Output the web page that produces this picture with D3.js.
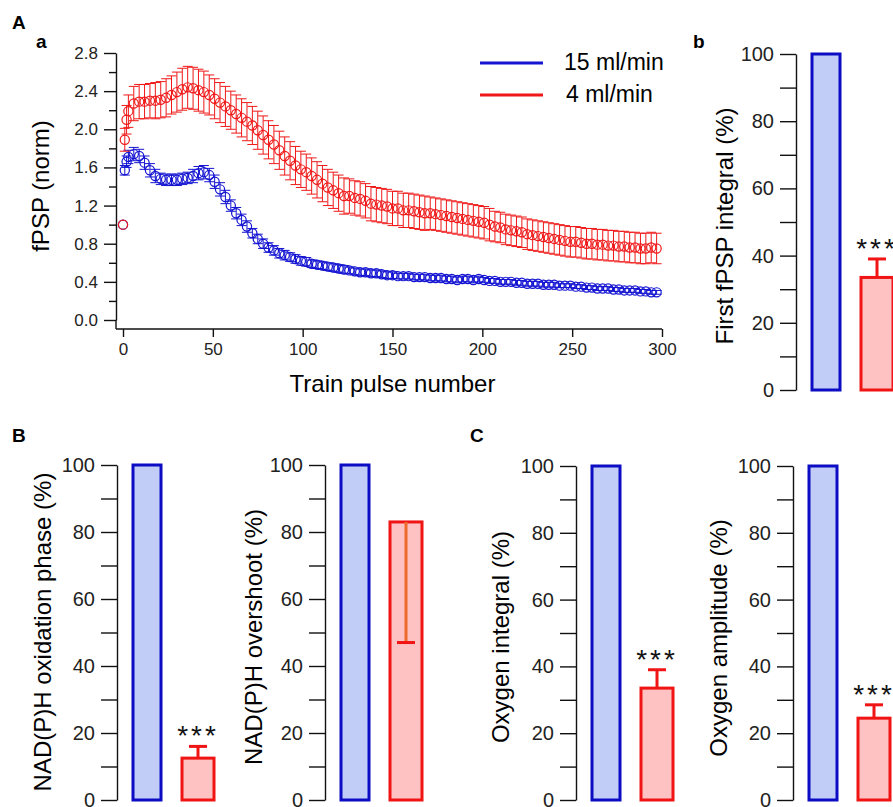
<!DOCTYPE html>
<html>
<head>
<meta charset="utf-8">
<script src="https://cdn.jsdelivr.net/npm/d3@7"></script>
<style>
    body { margin: 0; background: #fff; }
    svg { font-family: "Liberation Sans", Arial, Helvetica, sans-serif; }
    .axis path, .axis line { stroke: #111; stroke-width: 1.4; }
    .axis text { fill: #222; }
</style>
</head>
<body>
<script>
// ---- panel A a : fPSP time course ----
const pulses = [0, 1, 2, 3].concat(d3.range(6, 298, 3));

const blueMean = [1.00, 1.57, 1.66, 1.71,
    1.74, 1.72, 1.65, 1.57, 1.51, 1.48, 1.47, 1.47, 1.47, 1.48, 1.49, 1.51, 1.54, 1.55, 1.52,
    1.45, 1.37, 1.29, 1.20, 1.12, 1.05, 0.98, 0.91, 0.85, 0.80,
    0.76, 0.73, 0.70, 0.68, 0.66, 0.64, 0.62, 0.61, 0.59, 0.58, 0.57, 0.56, 0.55, 0.54, 0.53, 0.52, 0.51, 0.50, 0.50, 0.49, 0.49, 0.48, 0.47, 0.47,
    0.46, 0.46, 0.46, 0.45, 0.45, 0.45, 0.44, 0.44, 0.44, 0.43,
    0.43, 0.42, 0.43, 0.43, 0.42, 0.43, 0.42, 0.41, 0.41, 0.40,
    0.40, 0.40, 0.39, 0.39, 0.38, 0.38, 0.38, 0.37, 0.37, 0.37,
    0.36, 0.36, 0.36, 0.35, 0.35, 0.34, 0.34, 0.33, 0.33, 0.33,
    0.32, 0.32, 0.31, 0.31, 0.31, 0.30, 0.30, 0.29, 0.29];

const blueErr = [0, 0.05, 0.06, 0.07,
    0.07, 0.07, 0.07, 0.07, 0.07, 0.06, 0.06, 0.06, 0.06, 0.06, 0.06, 0.07, 0.07, 0.07, 0.07,
    0.07, 0.07, 0.07, 0.06, 0.06, 0.06, 0.06, 0.05, 0.05, 0.05,
    0.05, 0.05, 0.05, 0.05, 0.045, 0.045, 0.045, 0.045, 0.04, 0.04, 0.04, 0.04, 0.04, 0.04, 0.04, 0.035, 0.035, 0.035, 0.035, 0.035, 0.035, 0.035, 0.035, 0.035,
    0.03, 0.03, 0.03, 0.03, 0.03, 0.03, 0.03, 0.03, 0.03, 0.03,
    0.03, 0.03, 0.03, 0.03, 0.03, 0.03, 0.025, 0.025, 0.025, 0.025,
    0.025, 0.025, 0.025, 0.025, 0.025, 0.025, 0.025, 0.025, 0.025, 0.025,
    0.02, 0.02, 0.02, 0.02, 0.02, 0.02, 0.02, 0.02, 0.02, 0.02,
    0.02, 0.02, 0.02, 0.02, 0.02, 0.02, 0.02, 0.02, 0.02];

const redMean = [1.00, 1.89, 2.10, 2.19,
    2.27, 2.29, 2.29, 2.30, 2.30, 2.31, 2.33, 2.36, 2.39, 2.42, 2.44, 2.43, 2.41, 2.39, 2.36,
    2.32, 2.28, 2.24, 2.20, 2.16, 2.12, 2.08, 2.04, 1.99, 1.94,
    1.89, 1.84, 1.78, 1.72, 1.67, 1.62, 1.58, 1.55, 1.51, 1.47, 1.43, 1.39, 1.36, 1.33, 1.30, 1.30, 1.28, 1.27, 1.25, 1.22, 1.21, 1.20, 1.19, 1.17,
    1.17, 1.15, 1.15, 1.14, 1.13, 1.12, 1.12, 1.11, 1.10, 1.09,
    1.08, 1.07, 1.06, 1.05, 1.04, 1.03, 1.02, 1.00, 0.98, 0.97,
    0.95, 0.94, 0.93, 0.92, 0.90, 0.89, 0.88, 0.87, 0.86, 0.85,
    0.84, 0.83, 0.82, 0.82, 0.81, 0.80, 0.80, 0.79, 0.79, 0.78,
    0.78, 0.77, 0.77, 0.76, 0.76, 0.75, 0.75, 0.76, 0.75];

const redErr = [0, 0.12, 0.15, 0.17,
    0.18, 0.18, 0.18, 0.18, 0.19, 0.19, 0.20, 0.20, 0.21, 0.22, 0.22, 0.22, 0.22, 0.22, 0.21,
    0.21, 0.21, 0.21, 0.20, 0.20, 0.20, 0.20, 0.20, 0.20, 0.20,
    0.20, 0.20, 0.20, 0.20, 0.20, 0.20, 0.19, 0.19, 0.19, 0.19, 0.19, 0.19, 0.19, 0.19, 0.19, 0.18, 0.18, 0.18, 0.18, 0.18, 0.18, 0.18, 0.18, 0.18,
    0.18, 0.18, 0.18, 0.18, 0.18, 0.18, 0.17, 0.17, 0.17, 0.17,
    0.17, 0.17, 0.17, 0.17, 0.17, 0.17, 0.17, 0.17, 0.16, 0.16,
    0.16, 0.16, 0.16, 0.16, 0.16, 0.16, 0.16, 0.16, 0.16, 0.16,
    0.16, 0.16, 0.16, 0.16, 0.16, 0.16, 0.16, 0.16, 0.16, 0.16,
    0.16, 0.16, 0.16, 0.16, 0.16, 0.16, 0.16, 0.16, 0.16];

const seriesNames = ["15 ml/min", "4 ml/min"];
const seriesColors = ["#1414d2", "#f01818"];

// ---- bar panels (b, B, C) ----
const barLabels = ["First fPSP integral (%)", "NAD(P)H oxidation phase (%)",
    "NAD(P)H overshoot (%)", "Oxygen integral (%)", "Oxygen amplitude (%)"];
const controlValues = [100, 100, 100, 100, 100];
const lowFlowValues = [33.5, 12.5, 83, 33.5, 24.5];
const lowFlowErrors = [5.5, 3.5, -36, 5.5, 4];   // negative: drawn downwards
const significance = ["***", "***", "", "***", "***"];
const barTicks = d3.range(0, 101, 10);

let svg = d3.select("body")
    .append("svg")
    .attr("width", 893)
    .attr("height", 807);

// ===== line chart =====
let x = d3.scaleLinear().domain([0, 300]).range([123, 662]);
let y = d3.scaleLinear().domain([0, 2.8]).range([320, 53]);
const axisY0 = 116, axisX0 = 329;

let yAxis = svg.append("g")
    .attr("class", "axis")
    .attr("transform", `translate(${axisY0},0)`)
    .call(d3.axisLeft(y)
        .tickValues(d3.range(0, 2.81, 0.4))
        .tickFormat(d3.format(".1f"))
        .tickSize(12).tickPadding(6).tickSizeOuter(0));
yAxis.selectAll("text").attr("font-size", 17);

svg.append("g")
    .attr("class", "axis")
    .attr("transform", `translate(${axisY0},0)`)
    .call(d3.axisLeft(y)
        .tickValues(d3.range(0.2, 2.7, 0.4))
        .tickFormat("")
        .tickSize(7).tickSizeOuter(0))
    .select(".domain").remove();

svg.append("line")
    .attr("x1", axisY0).attr("x2", axisY0)
    .attr("y1", y(0)).attr("y2", axisX0)
    .attr("stroke", "#111").attr("stroke-width", 1.4);

let xAxis = svg.append("g")
    .attr("class", "axis")
    .attr("transform", `translate(0,${axisX0})`)
    .call(d3.axisBottom(x)
        .tickValues(d3.range(0, 301, 50))
        .tickSize(8).tickPadding(6).tickSizeOuter(0));
xAxis.select(".domain").remove();
xAxis.selectAll("text").attr("font-size", 17);

svg.append("line")
    .attr("x1", axisY0).attr("x2", x(300))
    .attr("y1", axisX0).attr("y2", axisX0)
    .attr("stroke", "#111").attr("stroke-width", 1.4);

svg.append("text")
    .attr("x", (x(0) + x(300)) / 2).attr("y", 392)
    .attr("text-anchor", "middle").attr("font-size", 24)
    .text("Train pulse number");

svg.append("text")
    .attr("transform", "translate(41,186) rotate(-90)")
    .attr("text-anchor", "middle").attr("dy", "0.35em").attr("font-size", 24)
    .text("fPSP (norm)");

let series = [
    { means: blueMean, errs: blueErr, color: seriesColors[0] },
    { means: redMean, errs: redErr, color: seriesColors[1] }
];

series.forEach(s => {
    let pts = pulses.map((p, i) => ({ p: p, m: s.means[i], e: s.errs[i] }));
    let g = svg.append("g");
    let eb = g.selectAll(".eb")
        .data(pts.filter(d => d.e > 0))
        .enter()
        .append("g");
    eb.append("line")
        .attr("x1", d => x(d.p)).attr("x2", d => x(d.p))
        .attr("y1", d => y(d.m - d.e)).attr("y2", d => y(d.m + d.e))
        .attr("stroke", s.color).attr("stroke-width", 1);
    [-1, 1].forEach(sign => {
        eb.append("line")
            .attr("x1", d => x(d.p) - 5).attr("x2", d => x(d.p) + 5)
            .attr("y1", d => y(d.m + sign * d.e)).attr("y2", d => y(d.m + sign * d.e))
            .attr("stroke", s.color).attr("stroke-width", 1);
    });
    g.selectAll("circle")
        .data(pts)
        .enter()
        .append("circle")
        .attr("cx", d => x(d.p))
        .attr("cy", d => y(d.m))
        .attr("r", 4.6)
        .attr("fill", "none")
        .attr("stroke", s.color)
        .attr("stroke-width", 1.2);
});

// legend
seriesNames.forEach((name, i) => {
    let ly = [63, 95][i];
    svg.append("line")
        .attr("x1", 480).attr("x2", 543)
        .attr("y1", ly).attr("y2", ly)
        .attr("stroke", seriesColors[i]).attr("stroke-width", 3);
    svg.append("text")
        .attr("x", i == 0 ? 564 : 566).attr("y", ly + 7)
        .attr("font-size", 23)
        .text(name);
});

// ===== bar panels =====
const panelLayout = [
    { axisX: 796, top: 54, bottom: 390, labelX: 725, labelY: 226 },
    { axisX: 117, top: 465, bottom: 800, labelX: 43, labelY: 632 },
    { axisX: 325, top: 465, bottom: 800, labelX: 254, labelY: 637 },
    { axisX: 576, top: 466, bottom: 800, labelX: 501, labelY: 637 },
    { axisX: 793, top: 466, bottom: 800, labelX: 719, labelY: 638 }
];

barLabels.forEach((label, i) => {
    let L = panelLayout[i];
    let by = d3.scaleLinear().domain([0, 100]).range([L.bottom, L.top]);
    let bx = d3.scalePoint().domain(seriesNames).range([L.axisX + 30, L.axisX + 81]);

    let ax = svg.append("g")
        .attr("class", "axis")
        .attr("transform", `translate(${L.axisX},0)`)
        .call(d3.axisLeft(by)
            .tickValues(barTicks)
            .tickFormat(d => d % 20 == 0 ? d : "")
            .tickSize(16).tickPadding(6).tickSizeOuter(0));
    ax.selectAll("text").attr("font-size", 20).attr("fill", "#222");

    svg.append("text")
        .attr("transform", `translate(${L.labelX},${L.labelY}) rotate(-90)`)
        .attr("text-anchor", "middle").attr("dy", "0.35em").attr("font-size", 24)
        .text(label);

    let bars = [
        { name: seriesNames[0], v: controlValues[i], w: 28, fill: "#c2cdf7", stroke: "#0c0cc4" },
        { name: seriesNames[1], v: lowFlowValues[i], w: 32, fill: "#ffc2c2", stroke: "#f01414" }
    ];
    svg.append("g").selectAll("rect")
        .data(bars)
        .enter()
        .append("rect")
        .attr("x", d => bx(d.name) - d.w / 2)
        .attr("width", d => d.w)
        .attr("y", d => by(d.v))
        .attr("height", d => by(0) - by(d.v))
        .attr("fill", d => d.fill)
        .attr("stroke", d => d.stroke)
        .attr("stroke-width", 3);

    let cx = bx(seriesNames[1]);
    let errEnd = lowFlowValues[i] + lowFlowErrors[i];
    svg.append("line")
        .attr("x1", cx).attr("x2", cx)
        .attr("y1", by(lowFlowValues[i])).attr("y2", by(errEnd))
        .attr("stroke", lowFlowErrors[i] < 0 ? "#ee6a2a" : "#f01414")
        .attr("stroke-width", 3);
    svg.append("line")
        .attr("x1", cx - 9).attr("x2", cx + 9)
        .attr("y1", by(errEnd)).attr("y2", by(errEnd))
        .attr("stroke", "#f01414").attr("stroke-width", 3);

    if (significance[i]) {
        svg.append("text")
            .attr("x", cx).attr("y", by(errEnd) - 1)
            .attr("text-anchor", "middle")
            .attr("font-size", 28)
            .attr("letter-spacing", 3)
            .attr("fill", "#111")
            .text(significance[i]);
    }
});

// panel letters
const panelLetters = [
    { t: "A", x: 12, y: 29 }, { t: "a", x: 36, y: 48 }, { t: "b", x: 693, y: 48 },
    { t: "B", x: 12, y: 442 }, { t: "C", x: 470, y: 442 }
];
svg.selectAll(".letter")
    .data(panelLetters)
    .enter()
    .append("text")
    .attr("x", d => d.x).attr("y", d => d.y)
    .attr("font-size", 19).attr("font-weight", "bold")
    .text(d => d.t);
</script>
</body>
</html>
